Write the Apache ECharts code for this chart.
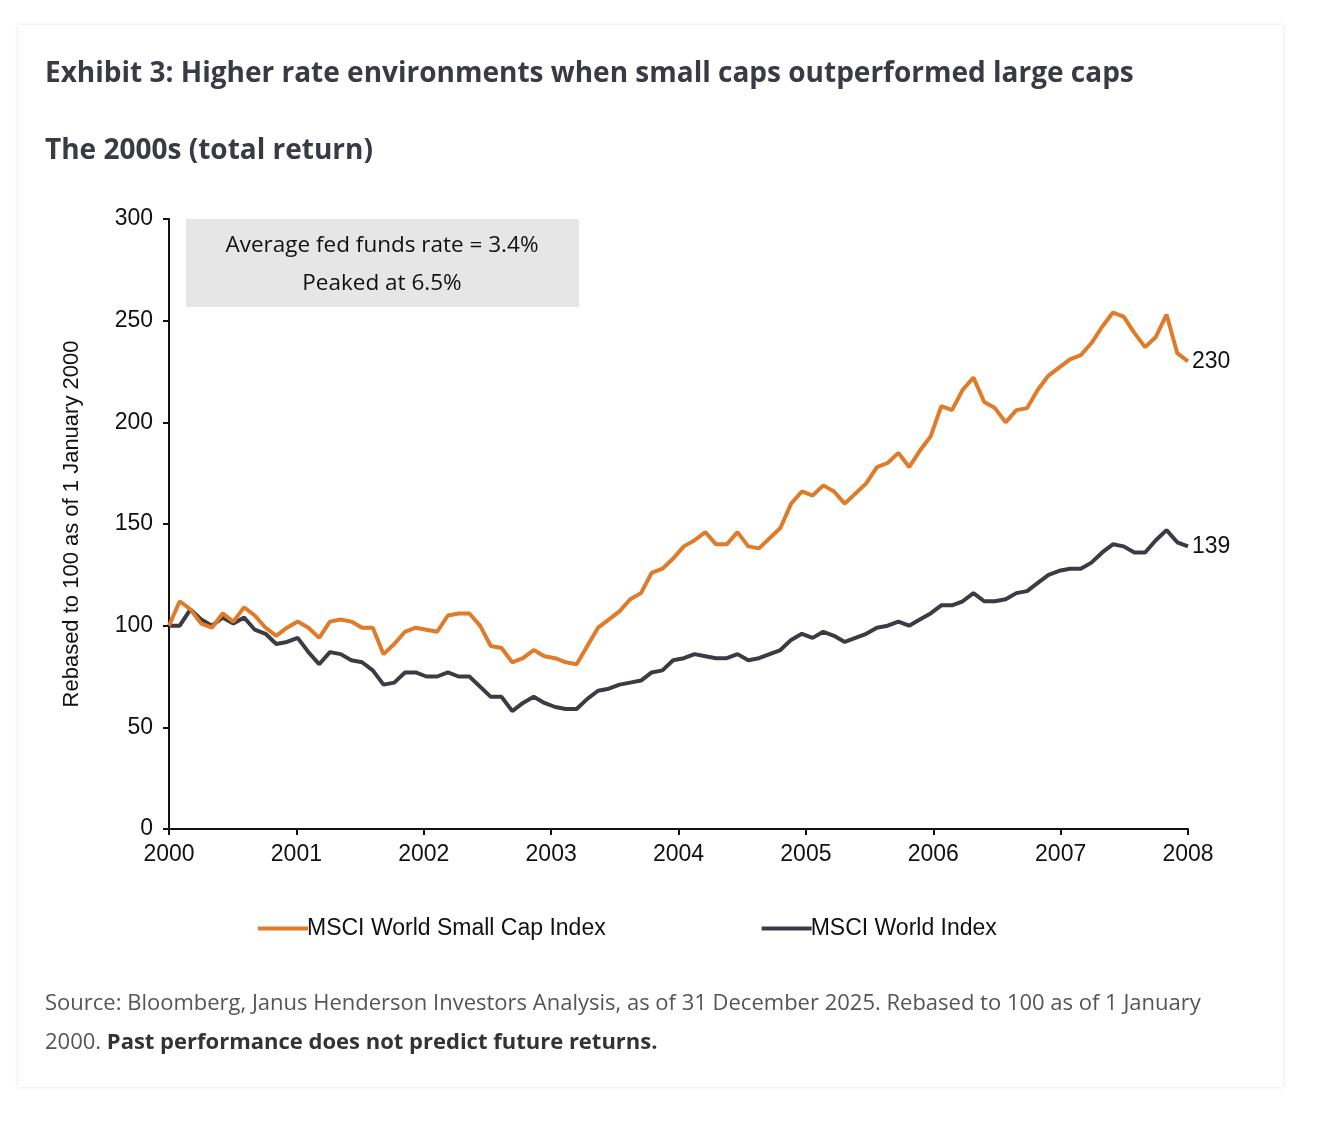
<!DOCTYPE html>
<html><head><meta charset="utf-8">
<script src="https://cdn.jsdelivr.net/npm/echarts@6/dist/echarts.min.js"></script>
<style>
html,body{margin:0;padding:0;background:#fff;}
#card{position:absolute;left:18px;top:25px;width:1265px;height:1062px;background:#fff;box-shadow:0 0 4px rgba(0,0,0,0.12);}
#chart{position:absolute;left:0;top:0;width:1344px;height:1138px;}
</style></head>
<body>
<div id="card"></div>
<div id="chart"></div>
<script>
const seriesNames = ['MSCI World Small Cap Index', 'MSCI World Index'];
const yearTicks = [2000, 2001, 2002, 2003, 2004, 2005, 2006, 2007, 2008];
const smallCap = [100,112,108,101,99,106,102,109,105,99,95,99,
 102,99,94,102,103,102,99,99,86,91,97,99,
 98,97,105,106,106,100,90,89,82,84,88,85,
 84,82,81,90,99,103,107,113,116,126,128,133,
 139,142,146,140,140,146,139,138,143,148,160,166,
 164,169,166,160,165,170,178,180,185,178,186,193,
 208,206,216,222,210,207,200,206,207,216,223,227,
 231,233,239,247,254,252,244,237,242,253,234,230];
const world = [100,100,108,103,100,104,101,104,98,96,91,92,
 94,87,81,87,86,83,82,78,71,72,77,77,
 75,75,77,75,75,70,65,65,58,62,65,62,
 60,59,59,64,68,69,71,72,73,77,78,83,
 84,86,85,84,84,86,83,84,86,88,93,96,
 94,97,95,92,94,96,99,100,102,100,103,106,
 110,110,112,116,112,112,113,116,117,121,125,127,
 128,128,131,136,140,139,136,136,142,147,141,139];

const n = smallCap.length;
const span = yearTicks[yearTicks.length-1] - yearTicks[0];
const toPts = arr => arr.map((v,i) => [yearTicks[0] + i*span/(n-1), v]);

const chart = echarts.init(document.getElementById('chart'));
const endLbl = {show:true, formatter: p => String(p.value[1]), fontFamily:'Liberation Sans', fontSize:23, color:'#111', distance:4};
chart.setOption({
  animation:false,
  textStyle:{fontFamily:'Liberation Sans'},
  title:[
    {text:'Exhibit 3: Higher rate environments when small caps outperformed large caps', left:40, top:55,
     textStyle:{fontFamily:'Open Sans', fontSize:28, fontWeight:'bold', color:'#3a3a44'}},
    {text:'The 2000s (total return)', left:40, top:132,
     textStyle:{fontFamily:'Open Sans', fontSize:28, fontWeight:'bold', color:'#3a3a44'}}
  ],
  grid:{left:169, right:156, top:219, bottom:309},
  legend:{top:912, left:253, itemGap:156, itemWidth:50, itemHeight:4, icon:'rect',
    textStyle:{fontSize:23, color:'#111', padding:[0,0,0,-6]},
    data:seriesNames},
  xAxis:{type:'value', min:2000, max:2008, interval:1,
    axisLine:{show:true, lineStyle:{color:'#111', width:2}},
    axisTick:{show:true, length:6, lineStyle:{color:'#111', width:2}},
    splitLine:{show:false},
    axisLabel:{fontSize:23, color:'#111', margin:14, formatter: v => String(v)}},
  yAxis:{type:'value', min:0, max:300, interval:50,
    name:'Rebased to 100 as of 1 January 2000', nameLocation:'middle', nameGap:86, nameRotate:90,
    nameTextStyle:{fontSize:22, color:'#111'},
    axisLine:{show:true, lineStyle:{color:'#111', width:2}},
    axisTick:{show:true, length:6, lineStyle:{color:'#111', width:2}},
    splitLine:{show:false},
    axisLabel:{fontSize:23, color:'#111', margin:16}},
  series:[
    {name:seriesNames[0], type:'line', data:toPts(smallCap), showSymbol:false, symbol:'none',
     lineStyle:{color:'#e07b2a', width:4}, itemStyle:{color:'#e07b2a'}, endLabel:endLbl, z:3},
    {name:seriesNames[1], type:'line', data:toPts(world), showSymbol:false, symbol:'none',
     lineStyle:{color:'#3a3b44', width:4}, itemStyle:{color:'#3a3b44'}, endLabel:endLbl, z:2}
  ],
  graphic:[
    {type:'rect', left:186, top:219, shape:{width:393, height:88}, style:{fill:'#e6e6e6'}},
    {type:'text', style:{text:'Average fed funds rate = 3.4%', x:382, y:246, fontSize:22.5, fill:'#111', align:'center', verticalAlign:'middle', fontFamily:'Open Sans'}},
    {type:'text', style:{text:'Peaked at 6.5%', x:382, y:284, fontSize:22.5, fill:'#111', align:'center', verticalAlign:'middle', fontFamily:'Open Sans'}},
    {type:'text', style:{text:'Source: Bloomberg, Janus Henderson Investors Analysis, as of 31 December 2025. Rebased to 100 as of 1 January', x:45, y:1004, fontSize:22, fill:'#555', verticalAlign:'middle', fontFamily:'Open Sans'}},
    {type:'text', style:{text:'{a|2000. }{b|Past performance does not predict future returns.}', x:45, y:1043, verticalAlign:'middle',
      rich:{a:{fontSize:22, fill:'#555', fontFamily:'Open Sans'}, b:{fontSize:22, fill:'#333', fontWeight:'bold', fontFamily:'Open Sans'}}}}
  ]
});
</script>
</body></html>
